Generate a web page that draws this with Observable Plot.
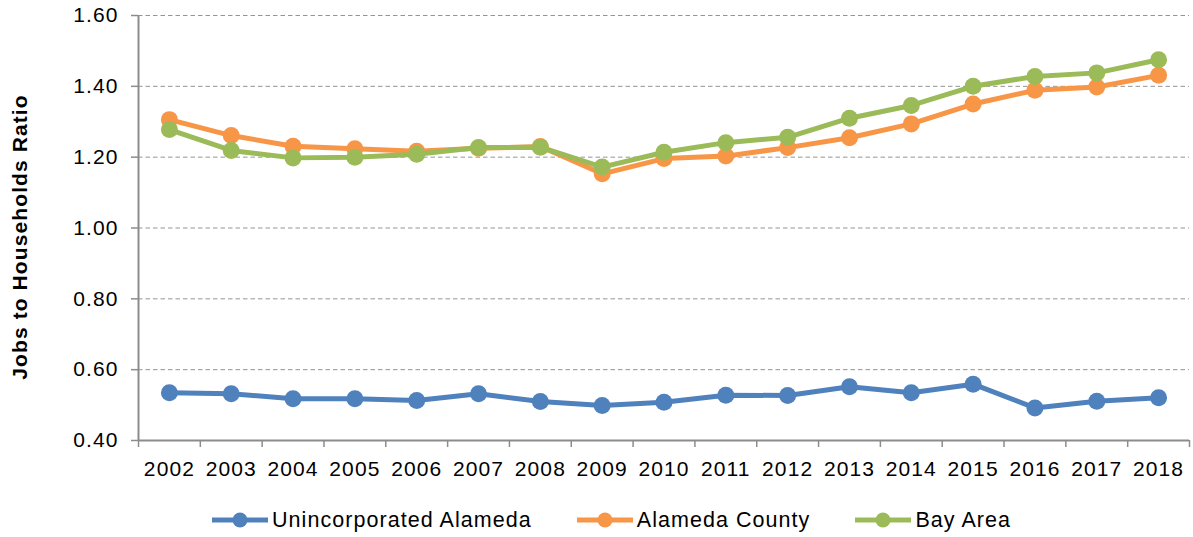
<!DOCTYPE html>
<html>
<head>
<meta charset="utf-8">
<script src="https://cdn.jsdelivr.net/npm/d3@7"></script>
<script src="https://cdn.jsdelivr.net/npm/@observablehq/plot@0.6"></script>
<style>
  html, body { margin: 0; padding: 0; background: #fff; }
  body { position: relative; width: 1193px; height: 537px; overflow: hidden; font-family: "Liberation Sans", Arial, sans-serif; }
  #legend { position: absolute; left: 212px; top: 505px; height: 30px; display: flex; align-items: center; gap: 45px; font-size: 21.5px; letter-spacing: 1.05px; color: #000; }
  .item { display: flex; align-items: center; }
  .item span { margin-left: 4px; line-height: 30px; }
</style>
</head>
<body>
<div id="chart"></div>
<div id="legend"></div>
<script>
const years = [2002, 2003, 2004, 2005, 2006, 2007, 2008, 2009, 2010, 2011, 2012, 2013, 2014, 2015, 2016, 2017, 2018];
const unincorporatedAlameda = [0.535, 0.532, 0.518, 0.518, 0.513, 0.532, 0.510, 0.499, 0.508, 0.528, 0.527, 0.552, 0.535, 0.559, 0.492, 0.511, 0.521];
const alamedaCounty = [1.306, 1.261, 1.231, 1.224, 1.217, 1.225, 1.230, 1.153, 1.196, 1.203, 1.227, 1.255, 1.294, 1.350, 1.389, 1.398, 1.431];
const bayArea = [1.278, 1.219, 1.198, 1.200, 1.208, 1.227, 1.228, 1.172, 1.214, 1.241, 1.256, 1.310, 1.346, 1.400, 1.428, 1.438, 1.475];
const seriesNames = ["Unincorporated Alameda", "Alameda County", "Bay Area"];
const seriesColors = ["#4F81BD", "#F79646", "#9BBB59"];
const yTicks = [0.40, 0.60, 0.80, 1.00, 1.20, 1.40, 1.60];
const yTitle = "Jobs to Households Ratio";

const seriesValues = [unincorporatedAlameda, alamedaCounty, bayArea];
const series = seriesNames.map((name, i) => ({
  name, color: seriesColors[i],
  rows: years.map((year, j) => ({year, value: seriesValues[i][j], series: name}))
}));
const boundaries = [years[0] - 0.5, ...years.map(y => y + 0.5)];

const axisColor = "#8c8c8c";
const marks = [
  Plot.gridY(yTicks.slice(1), {stroke: "#959595", strokeOpacity: 1, strokeWidth: 1, strokeDasharray: "4.5,3"}),
  Plot.axisY({ticks: yTicks, tickFormat: d3.format(".2f"), tickSize: 7, tickPadding: 13, stroke: axisColor, strokeWidth: 1.5, fill: "#000", fontSize: 21, label: null}),
  Plot.axisX({ticks: boundaries, tickSize: 7, tickFormat: () => "", stroke: axisColor, strokeWidth: 1.5, label: null}),
  Plot.axisX({ticks: years, tickSize: 0, tickPadding: 21, tickFormat: d => String(d), fill: "#000", fontSize: 21, label: null}),
  Plot.ruleY([yTicks[0]], {stroke: axisColor, strokeWidth: 2}),
  Plot.ruleX([boundaries[0]], {stroke: axisColor, strokeWidth: 2}),
  Plot.text([yTitle], {frameAnchor: "left", textAnchor: "middle", text: d => d, rotate: -90, dx: -118, dy: 9, fontSize: 21, fontWeight: "bold", fill: "#000"})
];
for (const s of series) {
  marks.push(Plot.line(s.rows, {x: "year", y: "value", stroke: s.color, strokeWidth: 5, strokeLinejoin: "round"}));
  marks.push(Plot.dot(s.rows, {x: "year", y: "value", fill: s.color, r: 8.5, stroke: "none"}));
}

const chart = Plot.plot({
  width: 1193,
  height: 495,
  marginTop: 15,
  marginBottom: 55,
  marginLeft: 138,
  marginRight: 4,
  style: {fontFamily: "'Liberation Sans', Arial, sans-serif", fontSize: "21px", letterSpacing: "1.1px", color: "#000", background: "#fff"},
  x: {type: "linear", domain: [boundaries[0], boundaries[boundaries.length - 1]], label: null},
  y: {domain: [yTicks[0], yTicks[yTicks.length - 1]], label: null},
  marks
});
document.getElementById("chart").appendChild(chart);

const legend = d3.select("#legend");
series.forEach(s => {
  const item = legend.append("div").attr("class", "item");
  const sw = item.append("svg").attr("width", 56).attr("height", 20);
  sw.append("line").attr("x1", 0).attr("x2", 56).attr("y1", 10).attr("y2", 10).attr("stroke", s.color).attr("stroke-width", 5);
  sw.append("circle").attr("cx", 28).attr("cy", 10).attr("r", 7.5).attr("fill", s.color);
  item.append("span").text(s.name);
});
</script>
</body>
</html>
